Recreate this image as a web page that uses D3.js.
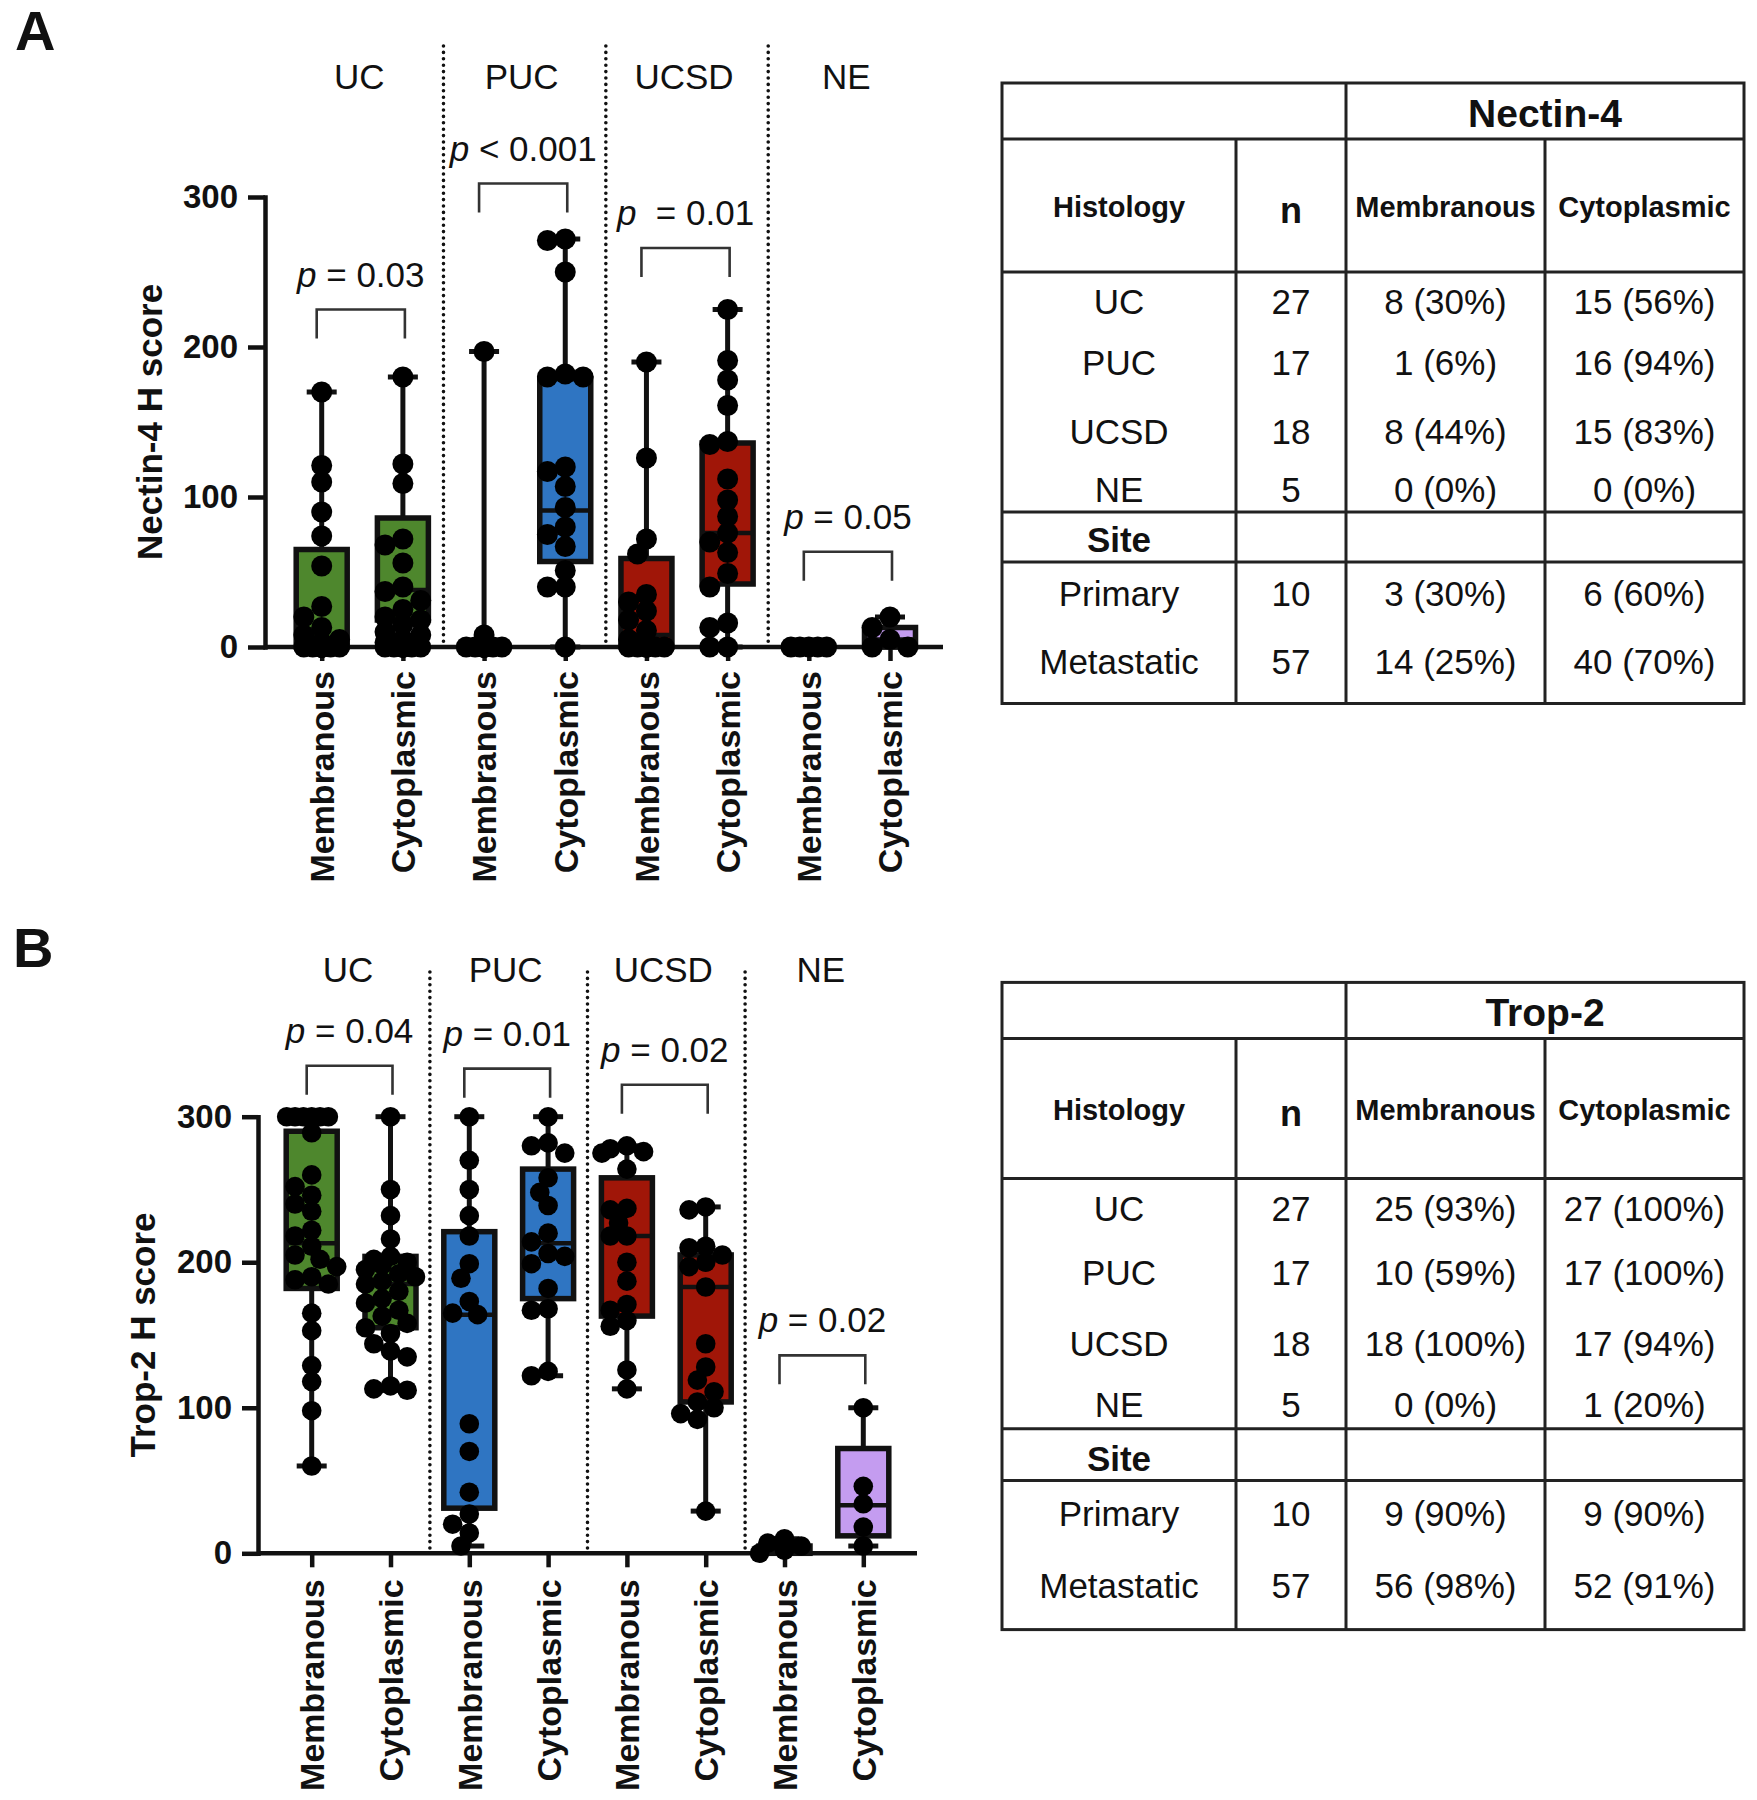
<!DOCTYPE html>
<html><head><meta charset="utf-8">
<script src="https://cdn.jsdelivr.net/npm/d3@7"></script>
<style>
body{margin:0;background:#fff}
svg{display:block}
text{font-family:"Liberation Sans",Arial,Helvetica,sans-serif;fill:#111}
</style>
</head><body>
<svg id="fig" width="1757" height="1800"></svg>
<script>
// ---------------- DATA ----------------
const groups = ["UC", "PUC", "UCSD", "NE"];
const locations = ["Membranous", "Cytoplasmic"];
const yTickValues = [0, 100, 200, 300];
const groupColors = ["#4e872d", "#2f75c2", "#a01608", "#c49cf0"];

// Panel A: Nectin-4 H score, individual cases
const nectinMemUC = [170,121,110,90,74,54,27,20,13,8,5,3,0,0,0,0,0,0,0,0,0,0,0,0,0,0,0];
const nectinCytUC = [180,122,109,72,68,56,40,37,31,25,20,18,15,10,8,5,3,0,0,0,0,0,0,0,0,0,0];
const nectinMemPUC = [197,8,0,0,0,0,0,0,0,0,0,0,0,0,0,0,0];
const nectinCytPUC = [272,271,250,182,180,180,120,117,107,93,80,75,67,51,40,40,0];
const nectinMemUCSD = [190,126,72,62,35,30,24,18,11,5,0,0,0,0,0,0,0,0];
const nectinCytUCSD = [225,191,178,161,137,135,112,98,87,76,70,63,49,40,16,13,0,0];
const nectinMemNE = [0,0,0,0,0];
const nectinCytNE = [20,13,5,0,0];
// box summaries [min, q1, median, q3, max]
const nectinMemBox = [[0,0,5,65,170],[0,0,0,0,197],[0,0,8,59,190],[0,0,0,0,0]];
const nectinCytBox = [[0,18,38,86,180],[0,57,91,179,272],[0,42,76,136,225],[0,0,5,13,20]];
const nectinP = [" = 0.03", " < 0.001", "  = 0.01", " = 0.05"];

// Panel B: Trop-2 H score, individual cases
const tropMemUC = [300,300,300,300,300,300,289,260,252,246,240,235,222,218,211,205,202,197,190,188,185,165,153,129,118,98,60];
const tropCytUC = [300,250,232,216,204,202,200,198,195,192,190,187,185,180,175,172,167,163,158,155,151,144,139,135,115,113,112];
const tropMemPUC = [300,270,250,232,218,199,189,173,165,164,89,70,42,27,20,14,5];
const tropCytPUC = [300,282,280,275,258,248,239,220,214,206,204,199,182,168,167,125,122];
const tropMemUCSD = [280,278,276,275,264,237,236,227,218,218,200,187,171,167,160,156,126,113];
const tropCytUCSD = [238,236,211,210,205,200,197,183,144,128,119,111,104,100,96,92,29];
const tropMemNE = [10,7,5,2,0];
const tropCytNE = [100,46,34,18,5];
const tropMemBox = [[60,182,213,290,300],[5,31,164,221,300],[113,163,218,258,280],[0,0,2,5,10]];
const tropCytBox = [[112,155,185,204,300],[122,175,213,264,300],[29,104,183,205,238],[5,12,33,72,100]];
const tropP = [" = 0.04", " = 0.01", " = 0.02", " = 0.02"];

// Tables
const siteRows = ["Primary", "Metastatic"];
const histN = [27, 17, 18, 5];
const siteN = [10, 57];
const nectinMemTbl = ["8 (30%)", "1 (6%)", "8 (44%)", "0 (0%)"];
const nectinCytTbl = ["15 (56%)", "16 (94%)", "15 (83%)", "0 (0%)"];
const nectinMemSite = ["3 (30%)", "14 (25%)"];
const nectinCytSite = ["6 (60%)", "40 (70%)"];
const tropMemTbl = ["25 (93%)", "10 (59%)", "18 (100%)", "0 (0%)"];
const tropCytTbl = ["27 (100%)", "17 (100%)", "17 (94%)", "1 (20%)"];
const tropMemSite = ["9 (90%)", "56 (98%)"];
const tropCytSite = ["9 (90%)", "52 (91%)"];

// ---------------- DRAWING ----------------
const svg = d3.select("#fig");
svg.append("rect").attr("width", 1757).attr("height", 1800).attr("fill", "#fff");

function swarm(vals, cx, y, r, maxOff) {
  const placed = [];
  const sorted = vals.slice().sort((a, b) => b - a);
  const step = r * 0.85;
  sorted.forEach(v => {
    const py = y(v);
    let best = 0, bestScore = -Infinity, done = false;
    for (let k = 0; k * step <= maxOff && !done; k++) {
      const offs = k === 0 ? [0] : [-k * step, k * step];
      for (const o of offs) {
        let minD = Infinity;
        placed.forEach(p => { const d = Math.hypot(p.x - (cx + o), p.y - py); if (d < minD) minD = d; });
        if (minD >= 2 * r * 0.78) { best = o; done = true; break; }
        if (minD > bestScore) { bestScore = minD; best = o; }
      }
    }
    placed.push({ x: cx + best, y: py });
  });
  return placed;
}

function drawPanel(L, memPts, cytPts, memBox, cytBox, pTexts, bracketTops, yTitle, letter) {
  const g = svg.append("g");
  const keys = [];
  groups.forEach(gr => locations.forEach(l => keys.push(gr + "|" + l)));
  const x = d3.scalePoint().domain(keys).range(L.catRange);
  const y = d3.scaleLinear().domain([0, 300]).range([L.y0, L.y300]);

  g.append("text").attr("x", L.letterX).attr("y", L.letterY).text(letter)
    .attr("font-size", 56).attr("font-weight", "bold");

  for (let i = 1; i < groups.length; i++) {
    const xm = (x(groups[i - 1] + "|Cytoplasmic") + x(groups[i] + "|Membranous")) / 2;
    g.append("line").attr("x1", xm).attr("x2", xm).attr("y1", L.divTop).attr("y2", L.y0)
      .attr("stroke", "#111").attr("stroke-width", 3.6).attr("stroke-linecap", "round")
      .attr("stroke-dasharray", "0,6.4");
  }

  groups.forEach(gr => {
    const cx = (x(gr + "|Membranous") + x(gr + "|Cytoplasmic")) / 2;
    g.append("text").attr("x", cx - 3).attr("y", L.groupY).attr("text-anchor", "middle")
      .attr("font-size", 35).text(gr);
  });

  const yAxis = d3.axisLeft(y).tickValues(yTickValues).tickSize(L.tick).tickSizeOuter(0)
    .tickPadding(10).tickFormat(d3.format("d"));
  const ya = g.append("g").attr("transform", `translate(${L.x0},0)`).call(yAxis);
  ya.select(".domain").attr("stroke", "#111").attr("stroke-width", 4.5).attr("stroke-linecap", "square");
  ya.selectAll(".tick line").attr("stroke", "#111").attr("stroke-width", 4.5);
  ya.selectAll(".tick text").attr("font-size", 33).attr("font-weight", "bold").attr("fill", "#111")
    .attr("font-family", '"Liberation Sans",Arial,sans-serif');

  g.append("text").attr("transform", `translate(${L.x0 - 115},${(L.y0 + L.y300) / 2}) rotate(-90)`)
    .attr("text-anchor", "middle").attr("dy", "0.35em").attr("font-size", 35).attr("font-weight", "bold")
    .text(yTitle);

  g.append("line").attr("x1", L.x0).attr("x2", L.x1).attr("y1", L.y0).attr("y2", L.y0)
    .attr("stroke", "#111").attr("stroke-width", 4.5);
  const xAxis = d3.axisBottom(x).tickSize(14).tickSizeOuter(0).tickFormat(d => d.split("|")[1]);
  const xa = g.append("g").attr("transform", `translate(0,${L.y0})`).call(xAxis);
  xa.select(".domain").remove();
  xa.selectAll(".tick line").attr("stroke", "#111").attr("stroke-width", 4.5);
  xa.selectAll(".tick text").attr("transform", "rotate(-90)").attr("text-anchor", "end")
    .attr("x", -L.labelGap).attr("y", 0).attr("dy", "0.35em")
    .attr("font-size", 34).attr("font-weight", "bold").attr("fill", "#111")
    .attr("font-family", '"Liberation Sans",Arial,sans-serif');

  const series = [];
  groups.forEach((gr, i) => {
    series.push({ key: gr + "|Membranous", pts: memPts[i], box: memBox[i], color: groupColors[i] });
    series.push({ key: gr + "|Cytoplasmic", pts: cytPts[i], box: cytBox[i], color: groupColors[i] });
  });
  const bw = L.boxW, cw = L.capW;
  series.forEach(s => {
    const cx = x(s.key);
    const [mn, q1, md, q3, mx] = s.box;
    const sg = g.append("g");
    sg.append("line").attr("x1", cx).attr("x2", cx).attr("y1", y(mx)).attr("y2", y(mn))
      .attr("stroke", "#111").attr("stroke-width", 5);
    if (q3 > q1) {
      sg.append("rect").attr("x", cx - bw / 2).attr("width", bw).attr("y", y(q3)).attr("height", y(q1) - y(q3))
        .attr("fill", s.color).attr("stroke", "#111").attr("stroke-width", 5.5);
      sg.append("line").attr("x1", cx - bw / 2).attr("x2", cx + bw / 2).attr("y1", y(md)).attr("y2", y(md))
        .attr("stroke", "#111").attr("stroke-width", 4.5);
    }
    [mn, mx].forEach(v => sg.append("line").attr("x1", cx - cw / 2).attr("x2", cx + cw / 2)
      .attr("y1", y(v)).attr("y2", y(v)).attr("stroke", "#111").attr("stroke-width", 5));
    const pts = swarm(s.pts, cx, y, L.r, 26);
    sg.selectAll("circle").data(pts).join("circle")
      .attr("cx", d => d.x).attr("cy", d => d.y).attr("r", L.r).attr("fill", "#000");
  });

  groups.forEach((gr, i) => {
    const xa1 = x(gr + "|Membranous") - 5, xa2 = x(gr + "|Cytoplasmic") + 2;
    const yt = y(bracketTops[i]);
    g.append("path").attr("d", `M${xa1},${yt + 29}V${yt}H${xa2}V${yt + 29}`)
      .attr("fill", "none").attr("stroke", "#333").attr("stroke-width", 2.6);
    const t = g.append("text").attr("x", (xa1 + xa2) / 2).attr("y", yt - 23)
      .attr("text-anchor", "middle").attr("font-size", 35).style("white-space", "pre");
    t.append("tspan").attr("font-style", "italic").text("p");
    t.append("tspan").text(pTexts[i]);
  });
}

drawPanel({ x0: 265, x1: 943, y0: 647, y300: 197, catRange: [321.7, 890], tick: 17, r: 10.5, boxW: 51, capW: 30,
  divTop: 46, groupY: 89, labelGap: 24, letterX: 15, letterY: 50 },
  [nectinMemUC, nectinMemPUC, nectinMemUCSD, nectinMemNE],
  [nectinCytUC, nectinCytPUC, nectinCytUCSD, nectinCytNE],
  nectinMemBox, nectinCytBox, nectinP, [225, 309, 266, 63.5], "Nectin-4 H score", "A");

drawPanel({ x0: 258, x1: 917, y0: 1553.3, y300: 1116.7, catRange: [311.7, 863.3], tick: 16, r: 9.8, boxW: 51, capW: 30,
  divTop: 972, groupY: 982, labelGap: 26, letterX: 13, letterY: 967 },
  [tropMemUC, tropMemPUC, tropMemUCSD, tropMemNE],
  [tropCytUC, tropCytPUC, tropCytUCSD, tropCytNE],
  tropMemBox, tropCytBox, tropP, [335, 333, 322, 136], "Trop-2 H score", "B");

// ---------------- TABLES ----------------
function drawTable(T, title, memH, cytH, memS, cytS) {
  const g = svg.append("g");
  const colX = [T.left, T.cols[0], T.cols[1], T.cols[2], T.right];
  const cx = i => (colX[i] + colX[i + 1]) / 2;
  const stroke = l => l.attr("stroke", "#222").attr("stroke-width", 3);
  stroke(g.append("rect").attr("x", T.left).attr("y", T.top).attr("width", T.right - T.left)
    .attr("height", T.bottom - T.top).attr("fill", "none"));
  T.hLines.forEach(hy => stroke(g.append("line").attr("x1", T.left).attr("x2", T.right).attr("y1", hy).attr("y2", hy)));
  stroke(g.append("line").attr("x1", T.cols[1]).attr("x2", T.cols[1]).attr("y1", T.top).attr("y2", T.bottom));
  [T.cols[0], T.cols[2]].forEach(vx => stroke(g.append("line").attr("x1", vx).attr("x2", vx)
    .attr("y1", T.hLines[0]).attr("y2", T.bottom)));

  const txt = (x, y, s, size, bold) => g.append("text").attr("x", x).attr("y", y).attr("dy", "0.35em")
    .attr("text-anchor", "middle").attr("font-size", size).attr("font-weight", bold ? "bold" : "normal").text(s);

  txt((T.cols[1] + T.right) / 2, T.titleY, title, 39, true);
  txt(cx(0), T.headY, "Histology", 29, true);
  txt(cx(1), T.headY + 4, "n", 36, true);
  txt(cx(2), T.headY, "Membranous", 29, true);
  txt(cx(3), T.headY, "Cytoplasmic", 29, true);
  groups.forEach((gr, i) => {
    const ry = T.histY[i];
    txt(cx(0), ry, gr, 35, false);
    txt(cx(1), ry, String(histN[i]), 35, false);
    txt(cx(2), ry, memH[i], 35, false);
    txt(cx(3), ry, cytH[i], 35, false);
  });
  txt(cx(0), T.siteY, "Site", 35, true);
  siteRows.forEach((sr, i) => {
    const ry = T.siteRowY[i];
    txt(cx(0), ry, sr, 35, false);
    txt(cx(1), ry, String(siteN[i]), 35, false);
    txt(cx(2), ry, memS[i], 35, false);
    txt(cx(3), ry, cytS[i], 35, false);
  });
}

drawTable({ left: 1002, right: 1744, cols: [1236, 1346, 1545], top: 83, bottom: 703.5,
  hLines: [139, 272, 512, 562], titleY: 113.6, headY: 206.6, histY: [301.8, 362.6, 431.5, 490],
  siteY: 539.4, siteRowY: [593.3, 662.2] },
  "Nectin-4", nectinMemTbl, nectinCytTbl, nectinMemSite, nectinCytSite);

drawTable({ left: 1002, right: 1744, cols: [1236, 1346, 1545], top: 982.4, bottom: 1629.6,
  hLines: [1038.6, 1178.6, 1428.8, 1480.4], titleY: 1012.2, headY: 1109.7, histY: [1208.4, 1272.7, 1343.8, 1404.7],
  siteY: 1458.6, siteRowY: [1513.7, 1586] },
  "Trop-2", tropMemTbl, tropCytTbl, tropMemSite, tropCytSite);
</script>
</body></html>
